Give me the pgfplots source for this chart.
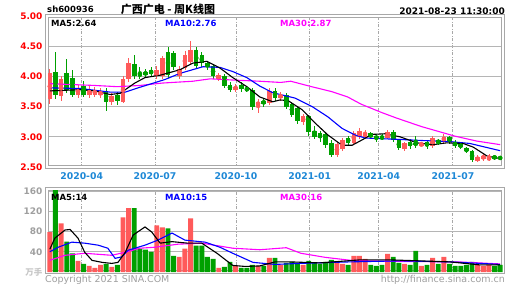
\documentclass[border=0pt]{standalone}
\usepackage{fontspec}
\setmainfont{DejaVu Sans}
\newfontfamily\cjk{Noto Sans CJK SC}
\usepackage{pgfplots}
\usepackage{pgfplotstable}
\pgfplotsset{compat=1.18}
\definecolor{upred}{RGB}{255,90,90}
\definecolor{dngreen}{RGB}{0,160,0}
\definecolor{pricered}{RGB}{255,0,0}
\definecolor{datebl}{RGB}{30,136,214}
\definecolor{framegr}{RGB}{168,168,168}
\definecolor{mamag}{RGB}{255,0,255}
\definecolor{mablue}{RGB}{0,0,255}

\pgfplotstableread{
i O H L C V
0 3.62 4.12 3.55 4.05 79
2 3.68 4.00 3.60 3.95 96
5 3.70 3.86 3.64 3.80 22
7 3.70 3.84 3.64 3.78 12
8 3.70 3.82 3.66 3.76 8
9 3.70 3.80 3.64 3.74 14
11 3.58 3.72 3.52 3.68 10
13 3.58 4.00 3.56 3.95 108
14 3.95 4.30 3.90 4.22 126
19 4.00 4.18 3.96 4.10 92
20 4.00 4.34 3.96 4.30 88
23 4.00 4.18 3.96 4.12 30
24 4.14 4.42 4.10 4.36 46
25 4.24 4.58 4.20 4.44 106
30 3.96 4.06 3.92 4.02 8
33 3.78 3.88 3.74 3.83 12
37 3.52 3.62 3.40 3.58 12
39 3.56 3.80 3.52 3.76 28
41 3.64 3.74 3.60 3.70 14
45 3.24 3.38 3.20 3.34 14
51 2.70 2.92 2.66 2.88 18
52 2.80 2.98 2.76 2.94 16
54 2.90 3.10 2.88 3.06 32
55 3.00 3.14 2.96 3.10 32
56 3.00 3.12 2.98 3.06 26
60 2.98 3.12 2.96 3.08 36
63 2.80 2.92 2.76 2.90 16
66 2.86 2.92 2.84 2.88 12
68 2.84 3.02 2.82 2.98 28
70 2.92 3.04 2.90 3.00 30
76 2.60 2.70 2.58 2.66 14
77 2.64 2.72 2.60 2.68 12
78 2.62 2.72 2.60 2.66 14
}\up

\pgfplotstableread{
i O H L C V
1 4.08 4.40 3.62 3.70 162
3 4.05 4.28 3.72 3.78 60
4 3.98 4.10 3.66 3.70 37
6 3.84 3.92 3.66 3.70 16
10 3.76 3.80 3.42 3.58 16
12 3.70 3.74 3.52 3.60 14
15 4.20 4.36 3.95 4.00 126
16 4.05 4.15 3.95 4.00 46
17 4.08 4.12 3.98 4.02 44
18 4.10 4.15 4.00 4.04 40
21 4.40 4.48 3.98 4.02 86
22 4.38 4.42 4.10 4.15 32
26 4.44 4.48 4.12 4.18 52
27 4.36 4.40 4.15 4.22 52
28 4.22 4.26 4.10 4.16 30
29 4.17 4.20 3.96 4.00 26
31 4.00 4.04 3.80 3.84 10
32 3.86 3.90 3.74 3.78 20
34 3.86 3.90 3.75 3.79 8
35 3.80 3.84 3.74 3.77 8
36 3.78 3.80 3.45 3.50 14
38 3.60 3.64 3.50 3.54 12
40 3.76 3.80 3.60 3.64 28
42 3.70 3.72 3.46 3.50 18
43 3.54 3.58 3.32 3.36 20
44 3.48 3.50 3.22 3.26 18
46 3.34 3.36 3.02 3.08 22
47 3.10 3.18 2.96 3.00 18
48 3.06 3.10 2.92 2.98 16
49 3.04 3.08 2.82 2.86 20
50 2.90 2.94 2.66 2.70 24
53 2.98 3.02 2.86 2.90 14
57 3.06 3.08 2.96 3.00 14
58 3.02 3.04 2.92 2.96 12
59 3.00 3.04 2.94 2.97 14
61 3.08 3.12 2.92 2.95 30
62 2.94 2.96 2.78 2.82 18
64 2.92 2.96 2.80 2.84 14
65 2.90 3.02 2.82 2.86 42
67 2.92 2.94 2.80 2.84 14
69 2.94 2.96 2.86 2.90 16
71 3.00 3.02 2.88 2.92 16
72 2.92 2.94 2.82 2.84 12
73 2.88 2.90 2.80 2.83 12
74 2.81 2.83 2.73 2.76 14
75 2.76 2.78 2.58 2.62 20
79 2.68 2.70 2.62 2.64 12
80 2.66 2.68 2.62 2.64 14
}\down

\pgfplotsset{
  kpanel/.style={
    scale only axis, width=456pt,
    xmin=-0.5, xmax=80.5,
    axis line style={draw=framegr, line width=0.9pt, double=white, double distance=1.4pt},
    xtick={5.66,18.68,33.07,46.16,58.42,71.6},
    major tick length=0pt,
    xmajorgrids, ymajorgrids,
    major x grid style={draw=framegr, line width=0.9pt, dash pattern=on 3pt off 1.5pt on 1pt off 1.5pt},
    major y grid style={draw=framegr!85, line width=1pt},
    /pgf/number format/assume math mode=true,
    yticklabel style={font=\bfseries\fontsize{9}{10}\selectfont, xshift=-1pt},
  },
  wick/.style={only marks, mark=none, color=#1,
    error bars/.cd, y dir=both, y explicit, error mark=none,
    error bar style={draw=#1, line width=0.8pt}},
  body/.style={only marks, mark=none, color=#1,
    error bars/.cd, y dir=both, y explicit, error mark=none,
    error bar style={draw=#1, line width=4.6pt}},
}

\begin{document}
\begin{tikzpicture}[x=1pt,y=1pt]
\path[use as bounding box] (0,0) rectangle (518,285);

% ---------- price panel ----------
\begin{axis}[kpanel, at={(47pt,118pt)}, anchor=south west, height=151pt,
  ymin=2.5, ymax=5.0, ytick={2.5,3,3.5,4,4.5,5},
  yticklabel style={text=pricered, /pgf/number format/.cd, fixed, fixed zerofill, precision=2},
  xticklabels={2020-04,2020-07,2020-10,2021-01,2021-04,2021-07},
  xticklabel style={font=\bfseries\fontsize{9.3}{10}\selectfont, text=datebl, yshift=-2pt},
]
\addplot[wick=upred] table[x=i, y expr={(\thisrow{H}+\thisrow{L})/2}, y error expr={(\thisrow{H}-\thisrow{L})/2}] {\up};
\addplot[body=upred] table[x=i, y expr={(\thisrow{O}+\thisrow{C})/2}, y error expr={max(abs(\thisrow{C}-\thisrow{O})/2,0.008)}] {\up};
\addplot[wick=dngreen] table[x=i, y expr={(\thisrow{H}+\thisrow{L})/2}, y error expr={(\thisrow{H}-\thisrow{L})/2}] {\down};
\addplot[body=dngreen] table[x=i, y expr={(\thisrow{O}+\thisrow{C})/2}, y error expr={max(abs(\thisrow{C}-\thisrow{O})/2,0.008)}] {\down};
% MA30
\addplot[mamag, line width=1.1pt, mark=none] coordinates {(0,3.88) (8,3.85) (12,3.83) (16,3.85) (20,3.89) (25.4,3.92) (28.5,3.96) (32.5,3.94) (37.3,3.92) (41,3.90) (42.8,3.92) (46.5,3.83) (50,3.75) (52.9,3.66) (55.3,3.54) (59,3.40) (61.6,3.31) (66,3.17) (72,3.01) (75.8,2.93) (80,2.87)};
% MA10
\addplot[mablue, line width=1.1pt, mark=none] coordinates {(0,3.81) (5.4,3.80) (10.7,3.74) (13.4,3.74) (16,3.82) (20.5,3.95) (23.1,4.05) (27.2,4.16) (30.2,4.15) (32.5,4.08) (35,3.98) (37.3,3.84) (39.6,3.73) (43.6,3.64) (46.6,3.50) (49.4,3.33) (51.9,3.14) (54.2,3.03) (56,2.98) (58.6,2.97) (61.3,2.96) (65.8,2.94) (71.1,2.92) (74.6,2.89) (80,2.77)};
% MA5
\addplot[black, line width=1.1pt, mark=none] coordinates {(0,3.76) (5.4,3.78) (8,3.76) (10.7,3.70) (12.5,3.72) (13.4,3.78) (15.1,3.89) (16.9,3.98) (19.6,4.02) (23.1,4.11) (25.4,4.22) (27.9,4.25) (30.2,4.14) (32.5,3.98) (35,3.83) (37.3,3.66) (39.6,3.58) (40.9,3.61) (42.3,3.60) (44.8,3.45) (47.1,3.23) (49.4,3.03) (51.9,2.86) (53.7,2.86) (55.5,2.95) (57.2,3.04) (59.5,3.05) (62.2,3.00) (65.2,2.90) (68.1,2.87) (70.5,2.90) (73.4,2.89) (75.2,2.83) (77.7,2.68) (80,2.64)};
\end{axis}

% ---------- volume panel ----------
\begin{axis}[kpanel, at={(47pt,13pt)}, anchor=south west, height=83pt,
  ymin=0, ymax=164, ytick={0,40,80,120,160},
  yticklabels={{\cjk\fontsize{8.5}{9}\selectfont\color{gray!45}万手},40,80,120,160},
  yticklabel style={text=gray!75},
  xticklabels={},
]
\addplot[ybar, bar width=4.9pt, bar shift=0pt, fill=upred, draw=none] table[x=i, y=V] {\up};
\addplot[ybar, bar width=4.9pt, bar shift=0pt, fill=dngreen, draw=none] table[x=i, y=V] {\down};
\addplot[mamag, line width=1.1pt, mark=none] coordinates {(0,23) (2.7,33) (6.2,37) (11,33) (13.4,39) (16,47) (18.7,49) (22.8,55) (27,57) (32.5,47) (37.3,44) (42,48) (44.6,37) (48.9,29) (53.5,23) (60.6,21) (72.5,20) (80,16)};
\addplot[mablue, line width=1.1pt, mark=none] coordinates {(0,40) (1.5,49) (3.9,59) (6.2,57) (8.6,53) (10.3,47) (11.6,27) (12.8,30) (13.9,43) (16.9,53) (19.2,63) (21.7,77) (24,63) (27.6,59) (30.2,49) (32.5,37) (36.1,19) (40,15) (44.4,17) (53.3,20) (62.2,22) (71.1,20) (80,15)};
\addplot[black, line width=1.1pt, mark=none] coordinates {(0,45) (0.9,67) (2.7,83) (3.6,84) (5,67) (6.2,39) (7.5,23) (9.3,19) (11,17) (12.1,19) (13.4,39) (14.8,73) (16.9,89) (18.1,79) (19.6,57) (21.7,60) (24.5,57) (27,57) (29.7,37) (32.5,13) (34.7,11) (37.3,12) (40,20) (42.7,20) (48,18) (55.1,24) (60.4,24) (65.8,22) (71.1,20) (76.4,14) (80,14)};
\end{axis}

% ---------- texts ----------
\node[anchor=west, font=\bfseries\fontsize{8.5}{10}\selectfont, inner sep=0] at (47,276) {sh600936};
\node[font=\cjk\bfseries\fontsize{11}{12}\selectfont, inner sep=0] at (168,276) {广西广电 - 周K线图};
\node[anchor=east, font=\bfseries\fontsize{9}{10}\selectfont, inner sep=0] at (505,274) {2021-08-23 11:30:00};

\node[anchor=west, font=\bfseries\fontsize{8.5}{10}\selectfont, inner sep=0] at (51,262) {MA5:2.64};
\node[anchor=west, font=\bfseries\fontsize{8.5}{10}\selectfont, inner sep=0, text=mablue] at (165,262) {MA10:2.76};
\node[anchor=west, font=\bfseries\fontsize{8.5}{10}\selectfont, inner sep=0, text=mamag] at (280,262) {MA30:2.87};

\node[anchor=west, font=\bfseries\fontsize{8.5}{10}\selectfont, inner sep=0] at (51,88) {MA5:14};
\node[anchor=west, font=\bfseries\fontsize{8.5}{10}\selectfont, inner sep=0, text=mablue] at (165,88) {MA10:15};
\node[anchor=west, font=\bfseries\fontsize{8.5}{10}\selectfont, inner sep=0, text=mamag] at (280,88) {MA30:16};

\node[anchor=west, font=\fontsize{9.5}{10}\selectfont, inner sep=0, text=gray!75] at (45,5) {Copyright 2021 SINA.COM};
\node[anchor=east, font=\fontsize{9.5}{10}\selectfont, inner sep=0, text=gray!75] at (505,5) {http://finance.sina.com.cn};
\end{tikzpicture}
\end{document}
